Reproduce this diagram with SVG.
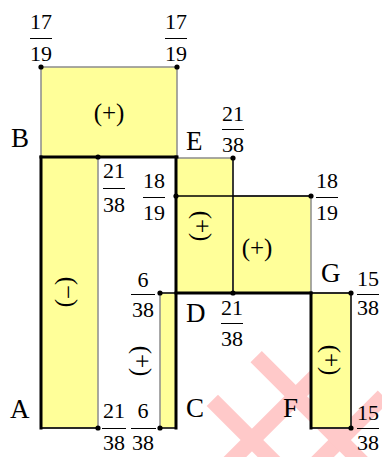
<svg xmlns="http://www.w3.org/2000/svg" width="382" height="457" viewBox="0 0 382 457">
<style>
.y{fill:#FFFF99;stroke:#8c8c8c;stroke-width:1.5}
.thk{stroke:#000;stroke-width:3;fill:none;stroke-linecap:square}
.thn{stroke:#000;stroke-width:1.3;fill:none}
.d{fill:#000}
text{font-family:"Liberation Serif","Times New Roman",serif;fill:#000}
.n{font-size:22px;text-anchor:middle}
.l{font-size:27px}
.s{font-size:25px;text-anchor:middle}
.bar{stroke:#000;stroke-width:1}
.wm{fill:#FFC9C9}
</style>
<g id="watermark" transform="translate(300,440) rotate(-45)">
<rect class="wm" x="-90" y="-42" width="180" height="16"/>
<rect class="wm" x="-90" y="20" width="180" height="16"/>
<rect class="wm" x="-42" y="-90" width="16" height="180"/>
<rect class="wm" x="20" y="-90" width="16" height="180"/>
</g>
<g id="diagrams">
<rect id="m-BE" class="y" x="41" y="67" width="136" height="90"/>
<rect id="m-AB" class="y" x="41" y="157" width="57" height="271"/>
<rect id="m-ED1" class="y" x="176" y="158" width="57" height="135"/>
<rect id="m-ED2" class="y" x="233" y="196" width="78" height="97"/>
<rect id="m-DC" class="y" x="160" y="293" width="16" height="135"/>
<rect id="m-GF" class="y" x="311" y="293" width="40" height="135"/>
</g>
<g id="connectors">
<line class="thn" x1="176" y1="196" x2="311" y2="196"/>
<line class="thn" x1="233" y1="158" x2="233" y2="293"/>
<line class="thn" x1="160" y1="293" x2="176" y2="293"/>
<line class="thn" x1="311" y1="293" x2="351" y2="293"/>
<line class="thn" x1="351" y1="293" x2="351" y2="428"/>
<line class="thn" x1="41" y1="428" x2="98" y2="428"/>
<line class="thn" x1="160" y1="428" x2="176" y2="428"/>
<line class="thn" x1="311" y1="428" x2="351" y2="428"/>
<line class="thk" x1="41" y1="157" x2="177" y2="157"/>
<line class="thk" x1="41" y1="157" x2="41" y2="428"/>
<line class="thk" x1="176" y1="157" x2="176" y2="428"/>
<line class="thk" x1="176" y1="293" x2="311" y2="293"/>
<line class="thk" x1="311" y1="293" x2="311" y2="428"/>
</g>
<g id="dots">
<circle class="d" cx="41" cy="67" r="2.6"/>
<circle class="d" cx="177" cy="67" r="2.6"/>
<circle class="d" cx="98" cy="157" r="2.6"/>
<circle class="d" cx="233" cy="158" r="2.6"/>
<circle class="d" cx="176" cy="196" r="2.6"/>
<circle class="d" cx="311" cy="196" r="2.6"/>
<circle class="d" cx="233" cy="293" r="2.6"/>
<circle class="d" cx="160" cy="293" r="2.6"/>
<circle class="d" cx="351" cy="293" r="2.6"/>
<circle class="d" cx="98" cy="428" r="2.6"/>
<circle class="d" cx="160" cy="428" r="2.6"/>
<circle class="d" cx="351" cy="428" r="2.6"/>
</g>
<g id="letters">
<text class="l" x="11" y="147">B</text>
<text class="l" x="186" y="150">E</text>
<text class="l" x="321" y="282">G</text>
<text class="l" x="186" y="322">D</text>
<text class="l" x="10" y="418">A</text>
<text class="l" x="186" y="417">C</text>
<text class="l" x="283" y="417">F</text>
</g>
<g id="signs">
<text class="s" x="109" y="121">(+)</text>
<text class="s" x="257" y="256">(+)</text>
<text class="s" transform="translate(202,226) rotate(90)" y="8">(+)</text>
<text class="s" transform="translate(68,292) rotate(90)" y="8">(−)</text>
<text class="s" transform="translate(142,361) rotate(90)" y="8">(+)</text>
<text class="s" transform="translate(331,360) rotate(90)" y="8">(+)</text>
</g>
<g id="fractions">
<g id="f1"><text class="n" x="41" y="29">17</text><line class="bar" x1="30" y1="38.5" x2="52" y2="38.5"/><text class="n" x="41" y="61">19</text></g>
<g id="f2"><text class="n" x="176" y="29">17</text><line class="bar" x1="165" y1="38.5" x2="187" y2="38.5"/><text class="n" x="176" y="61">19</text></g>
<g id="f3"><text class="n" x="233" y="121">21</text><line class="bar" x1="222" y1="129.5" x2="244" y2="129.5"/><text class="n" x="233" y="152">38</text></g>
<g id="f4"><text class="n" x="327" y="188">18</text><line class="bar" x1="316" y1="197.5" x2="338" y2="197.5"/><text class="n" x="327" y="220">19</text></g>
<g id="f5"><text class="n" x="368" y="286">15</text><line class="bar" x1="357" y1="294.5" x2="379" y2="294.5"/><text class="n" x="368" y="315">38</text></g>
<g id="f6"><text class="n" x="114" y="178">21</text><line class="bar" x1="103" y1="188.5" x2="125" y2="188.5"/><text class="n" x="114" y="212">38</text></g>
<g id="f7"><text class="n" x="154" y="188">18</text><line class="bar" x1="143" y1="197.5" x2="165" y2="197.5"/><text class="n" x="154" y="220">19</text></g>
<g id="f8"><text class="n" x="143" y="287">6</text><line class="bar" x1="131" y1="294.5" x2="155" y2="294.5"/><text class="n" x="143" y="317">38</text></g>
<g id="f9"><text class="n" x="232" y="315">21</text><line class="bar" x1="221" y1="323.5" x2="243" y2="323.5"/><text class="n" x="232" y="346">38</text></g>
<g id="f10"><text class="n" x="114" y="418">21</text><line class="bar" x1="102" y1="428.5" x2="126" y2="428.5"/><text class="n" x="114" y="450">38</text></g>
<g id="f11"><text class="n" x="143" y="418">6</text><line class="bar" x1="131" y1="428.5" x2="156" y2="428.5"/><text class="n" x="143" y="450">38</text></g>
<g id="f12"><text class="n" x="368" y="420">15</text><line class="bar" x1="357" y1="428.5" x2="379" y2="428.5"/><text class="n" x="368" y="450">38</text></g>
</g>
</svg>
